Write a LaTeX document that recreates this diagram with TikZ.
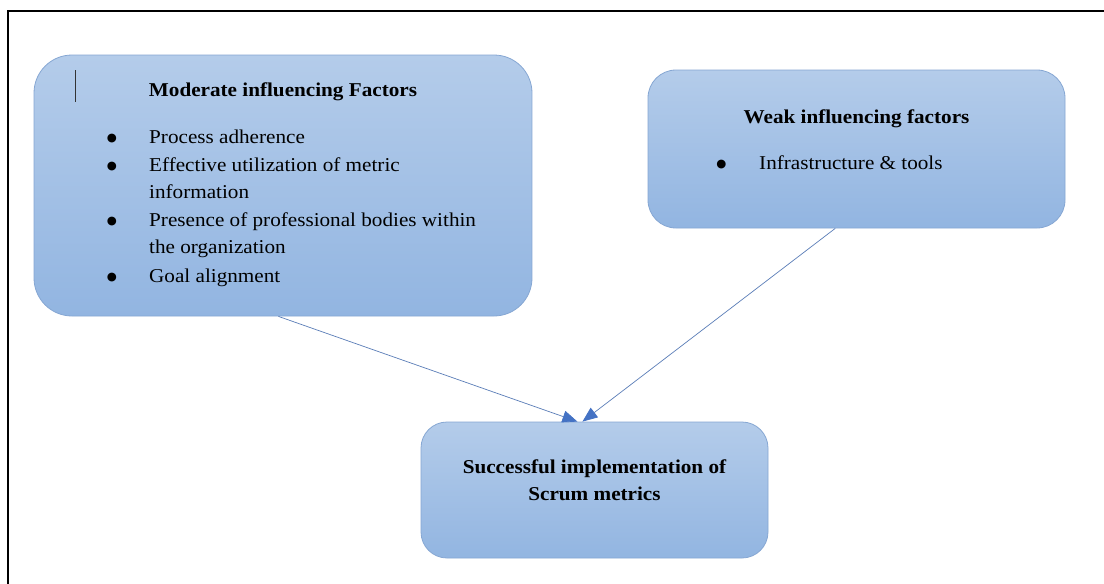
\documentclass[tikz,border=0pt]{standalone}
\usepackage{fontspec}
\setmainfont{Liberation Serif}[FakeStretch=1.08]
\newfontfamily\dotfont{DejaVu Sans}
\usetikzlibrary{arrows.meta}
\definecolor{boxtop}{HTML}{B4CCEA}
\definecolor{boxbot}{HTML}{92B5E1}
\definecolor{boxline}{HTML}{86A7D3}
\definecolor{connline}{HTML}{5A7DB8}
\definecolor{connhead}{HTML}{4472C4}
\begin{document}
\begin{tikzpicture}[x=1pt,y=-1pt,
  every node/.style={font=\fontsize{19.6}{24}\selectfont, text=black},
  box/.style={draw=boxline, line width=0.8pt, rounded corners=#1,
    top color=boxtop, bottom color=boxbot, inner sep=0pt},
  head/.style={anchor=base, inner sep=0pt, font=\fontsize{19.6}{24}\selectfont\bfseries},
  item/.style={anchor=base west, inner sep=0pt},
  dot/.style={anchor=center, inner sep=0pt, font=\dotfont\fontsize{11.5}{12}\selectfont},
  conn/.style={draw=connline, line width=0.7pt,
    -{Triangle[length=15pt,width=12pt,color=connhead,fill=connhead]}}]
\useasboundingbox (0,0) rectangle (1104,584);
\fill[white] (0,0) rectangle (1104,584);

% page frame
\draw[line width=1.6pt] (8,584) -- (8,11) -- (1104,11);

% boxes
\node[box=38, minimum width=498pt, minimum height=261pt] (mod) at (283,185.5) {};
\node[box=28, minimum width=417pt, minimum height=158pt] (weak) at (856.5,149) {};
\node[box=26, minimum width=347pt, minimum height=136pt] (succ) at (594.5,490) {};

% text cursor mark
\draw[line width=0.8pt, black!80] (75,70) -- (75,102);

% moderate influencing factors
\node[head] (modT) at (283,96) {Moderate influencing Factors};
\node[dot] (mb1) at (112,138.5) {●};
\node[item] (m1) at (149,143) {Process adherence};
\node[dot] (mb2) at (112,166.5) {●};
\node[item] (m2a) at (149,171) {Effective utilization of metric};
\node[item] (m2b) at (149,198) {information};
\node[dot] (mb3) at (112,221.5) {●};
\node[item] (m3a) at (149,226) {Presence of professional bodies within};
\node[item] (m3b) at (149,253) {the organization};
\node[dot] (mb4) at (112,277.5) {●};
\node[item] (m4) at (149,282) {Goal alignment};

% weak influencing factors
\node[head] (weakT) at (856.5,123) {Weak influencing factors};
\node[dot] (wb1) at (721.5,165) {●};
\node[item] (w1) at (759,169) {Infrastructure \& tools};

% outcome
\node[head] (succT1) at (594.5,473) {Successful implementation of};
\node[head] (succT2) at (594.5,500) {Scrum metrics};

% connectors
\draw[conn] (mod.-92.6) -- (succ.104);
\draw[conn] (weak.-105.8) -- (succ.100);
\end{tikzpicture}
\end{document}
